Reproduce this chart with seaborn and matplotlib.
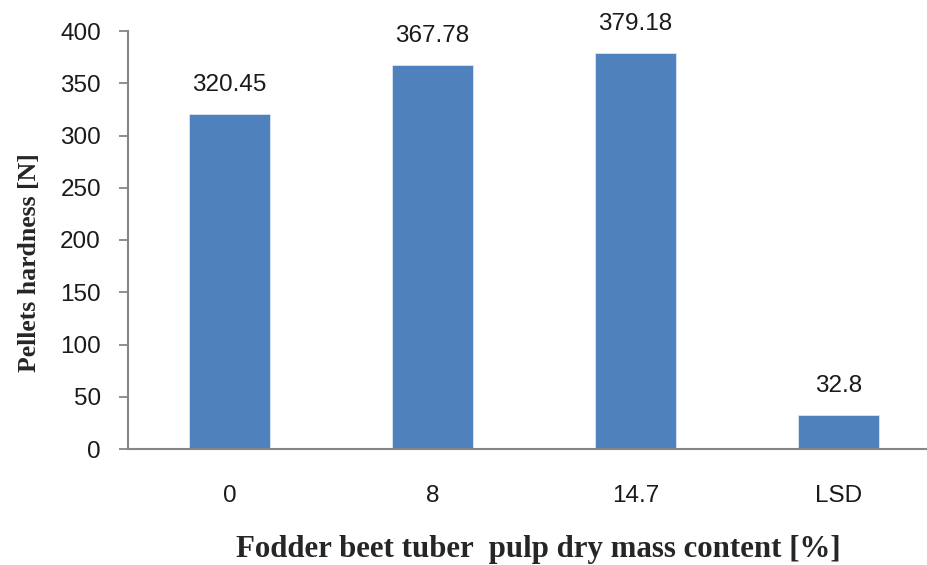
import matplotlib
matplotlib.use("Agg")
import matplotlib.pyplot as plt
import seaborn as sns
import pandas as pd

categories = ["0", "8", "14.7", "LSD"]
hardness = [320.45, 367.78, 379.18, 32.8]
value_labels = ["320.45", "367.78", "379.18", "32.8"]
y_ticks = [0, 50, 100, 150, 200, 250, 300, 350, 400]

df = pd.DataFrame({"content": categories, "hardness": hardness})

sns.set_theme(style="white")
plt.rcParams["font.family"] = ["Liberation Sans", "DejaVu Sans"]

fig = plt.figure(figsize=(9.28, 5.65), dpi=100)
ax = fig.add_axes([128 / 928, (565 - 449) / 565, (940 - 128) / 928, (449 - 31) / 565])

sns.barplot(data=df, x="content", y="hardness", color="#4F81BD", saturation=1,
            width=0.4, edgecolor="#dce6f2", linewidth=0.6, ax=ax)

for i, (v, lab) in enumerate(zip(hardness, value_labels)):
    ax.annotate(lab, (i, v), xytext=(0, 13), textcoords="offset points",
                ha="center", va="bottom", fontsize=17.5, color="#1a1a1a")

ax.set_xlim(-0.5, 3.5)
ax.set_ylim(0, 400)
ax.set_yticks(y_ticks)
ax.set_yticklabels([str(t) for t in y_ticks], fontsize=17.5, color="#1a1a1a")
ax.tick_params(axis="y", which="both", direction="out", length=6.5, width=1.3,
               color="#868686", left=True, pad=13)
ax.tick_params(axis="x", labelsize=17.5, labelcolor="#1a1a1a", length=0, pad=26)

for side in ["top", "right"]:
    ax.spines[side].set_visible(False)
for side in ["left", "bottom"]:
    ax.spines[side].set_color("#868686")
    ax.spines[side].set_linewidth(1.5)

ax.set_xlabel("")
ax.set_ylabel("")
fig.text(30 / 928, (565 - 263) / 565, "Pellets hardness [N]", rotation=90,
         ha="center", va="center", fontsize=18.5, fontweight="bold",
         family=["Liberation Serif", "DejaVu Serif"])
fig.text(538 / 928, (565 - 549) / 565, "Fodder beet tuber  pulp dry mass content [%]",
         ha="center", va="center", fontsize=22.2, fontweight="bold",
         family=["Liberation Serif", "DejaVu Serif"])

fig.savefig("out.png", dpi=100)
